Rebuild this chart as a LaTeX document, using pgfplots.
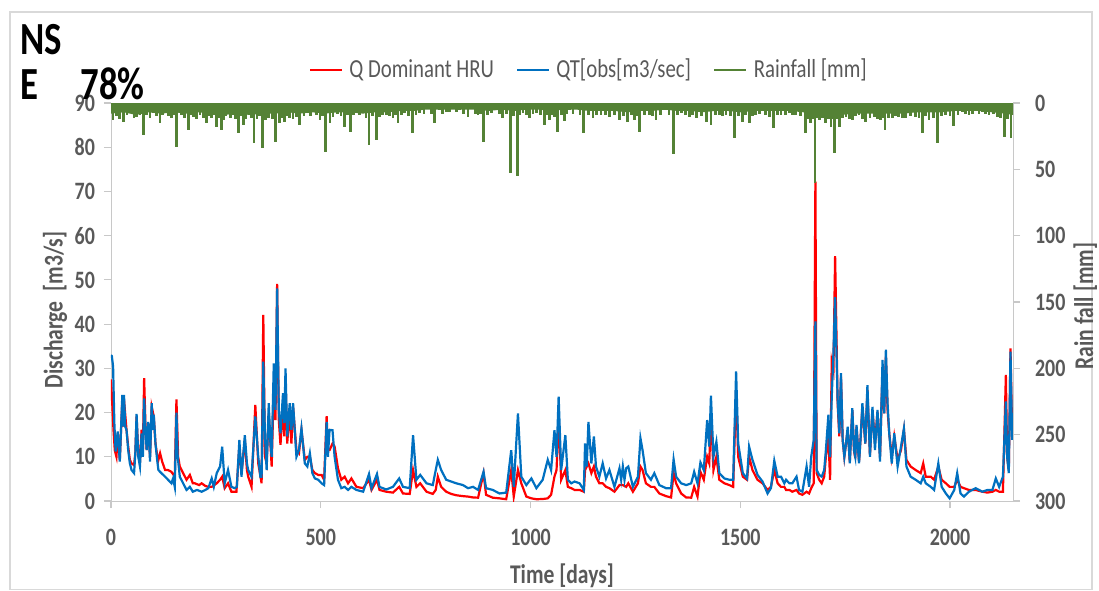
\documentclass[border=0pt]{standalone}
\usepackage{pgfplots}
\pgfplotsset{compat=1.18}
\usepackage{fontspec}
\setmainfont{Carlito}[FakeStretch=0.8]
\definecolor{redc}{HTML}{FF0000}
\definecolor{bluec}{HTML}{0070C0}
\definecolor{rainc}{HTML}{548235}
\definecolor{txtgray}{HTML}{595959}
\definecolor{axisgray}{HTML}{C8C8C8}
\definecolor{framegray}{HTML}{D9D9D9}

\pgfplotsset{
  common/.style={
    scale only axis, width=451pt, height=199pt,
    at={(0,0)}, anchor=south west,
    xmin=0, xmax=2150,
    axis line style={draw=axisgray},
    tick style={draw=axisgray, line width=0.6pt},
    major tick length=3.5pt, tick align=outside,
    /pgf/number format/assume math mode=true,
    /pgf/number format/1000 sep={},
    tick label style={font=\fontsize{12.5}{14}\selectfont\bfseries, text=txtgray},
    label style={font=\fontsize{13.5}{15}\selectfont\bfseries, text=txtgray},
  }
}

\begin{document}
\begin{tikzpicture}
\useasboundingbox (-55.5pt,-44.5pt) rectangle (494pt,250.5pt);
\draw[framegray, line width=0.6pt] (-50.5pt,-44.3pt) rectangle (490.5pt,244.5pt);

% discharge
\begin{axis}[common,
  axis x line*=bottom, axis y line*=left,
  ymin=0, ymax=90, ytick={0,10,...,90},
  xtick={0,500,1000,1500,2000},
  xticklabel style={yshift=-7pt},
  yticklabel style={xshift=-1pt},
  xlabel={Time [days]},
  xlabel style={at={(axis description cs:0.5,-0.188)}, anchor=center},
  ylabel={Discharge \ [m3/s]},
  ylabel style={at={(axis description cs:-0.062,0.48)}, anchor=center},
]
\addplot[redc, line width=1.1pt] coordinates {
(0,27.5)(3,22)(6,16)(9,11.5)(13,10)(16,15.3)(21,9.3)(27,22.9)(29,16.8)(31,22.9)(37,16.1)(41,12.3)(45,9.3)(49,8.5)(55,8.1)(58,10.8)(61,19.1)(65,10.8)(69,8.9)(73,16.1)(76,11.5)(79,27.8)(82,17.6)(85,11.5)(89,17.6)(93,10)(97,21.3)(102,19.1)(106,13)(110,10.4)(113,9.3)(117,10.8)(122,8.9)(129,7)(136,7)(144,6.6)(152,5.5)(156,23)(160,10)(164,7.8)(172,6.3)(180,4.8)(188,5.9)(195,4)(200,4)(210,3.6)(216,4)(225,3.4)(232,3.2)(240,3.2)(252,4)(260,4.8)(265,5.5)(271,2.9)(279,4)(287,2.1)(299,2.1)(306,12.5)(311,6.3)(319,13.8)(324,7)(327,5.5)(335,3.2)(344,21.7)(351,8.5)(359,4)(363,42.1)(367,10)(371,8.5)(376,19.8)(383,7.8)(388,25.9)(392,18.3)(396,49.1)(400,18.3)(404,12.7)(410,22.1)(413,14.6)(416,27.4)(420,13)(426,20.6)(430,13)(434,21.3)(442,11.5)(448,10.8)(454,16.1)(462,9.3)(468,10)(474,10)(480,7)(486,6.3)(494,5.9)(502,5.9)(508,4.8)(514,19.2)(517,11.5)(521,11.5)(528,13)(533,12.3)(541,7.4)(549,4.8)(557,5.5)(565,4)(573,5.1)(585,3.2)(601,2.9)(615,4.8)(621,2.5)(634,4.8)(640,2.5)(656,2.1)(672,1.9)(687,3.2)(696,1.7)(712,1.6)(720,7)(728,3.2)(737,4)(752,2.1)(767,1.6)(774,2.5)(779,5.5)(787,3.2)(799,2.1)(811,1.6)(823,1.3)(839,1.1)(851,1)(863,0.8)(875,0.75)(888,6.3)(894,1.4)(910,0.75)(926,0.6)(942,0.4)(954,7)(960,1)(970,7)(978,4)(990,1)(1002,0.6)(1014,0.4)(1029,0.45)(1041,0.6)(1049,1.4)(1057,5.5)(1062,7)(1067,19.1)(1073,4.8)(1083,7)(1089,3.2)(1097,2.9)(1105,2.5)(1117,2.5)(1127,2.1)(1130,7)(1138,8.5)(1145,6.3)(1151,7.8)(1156,5.5)(1164,4)(1172,4)(1180,3.2)(1188,2.9)(1200,2.1)(1212,3.6)(1220,3.6)(1228,3.2)(1233,4)(1244,2.1)(1256,4)(1262,7.8)(1267,7)(1275,4)(1287,3.2)(1295,3.2)(1307,1.7)(1323,1.1)(1335,0.8)(1341,6.3)(1347,4)(1359,1.7)(1371,0.8)(1383,0.75)(1390,3.2)(1398,1)(1405,6.6)(1413,4.8)(1421,10)(1426,8.5)(1430,19.8)(1436,7)(1443,10)(1450,4.8)(1462,4)(1474,3.6)(1483,3.2)(1490,25)(1495,10)(1506,5.5)(1516,4.8)(1521,10)(1529,7)(1541,4.8)(1553,4)(1565,2.5)(1573,3.2)(1581,7)(1589,4)(1597,3.2)(1605,3.2)(1609,2.5)(1617,2.5)(1624,2.1)(1634,2.5)(1640,1.7)(1648,1.4)(1658,2.1)(1664,1.7)(1669,2.9)(1675,4)(1679,72.2)(1682,6.3)(1688,4.8)(1694,4)(1700,5.5)(1704,10)(1710,14.6)(1714,4.8)(1718,31.5)(1722,29.6)(1726,55.4)(1732,22.1)(1736,14.6)(1740,28.1)(1744,13.8)(1748,10)(1752,13)(1756,16.1)(1761,8.9)(1767,20.6)(1771,11.5)(1774,9.7)(1777,16.8)(1783,8.9)(1787,14.6)(1791,21.3)(1798,13)(1803,25.1)(1809,10.4)(1815,20.6)(1821,13)(1827,20.2)(1833,10)(1839,29.6)(1843,19.8)(1847,32.7)(1851,20.6)(1855,15.3)(1861,10)(1867,14.6)(1875,9.3)(1883,11.5)(1890,16.1)(1896,9.3)(1906,7.8)(1918,7)(1930,6.3)(1936,8.5)(1942,5.5)(1954,5.5)(1962,4.8)(1972,7.8)(1980,4.8)(1990,4)(1999,3.2)(2010,3.2)(2017,4.8)(2025,3.2)(2033,2.9)(2045,2.5)(2061,2.5)(2077,2.1)(2089,1.9)(2101,2.1)(2109,2.5)(2117,2.1)(2126,2.1)(2133,28.5)(2136,10)(2140,7)(2144,34.5)(2148,15.3)
};
\addplot[bluec, line width=1.1pt] coordinates {
(0,33)(2,32.8)(5,30.4)(8,17.6)(11,11.2)(16,15.7)(21,8.9)(27,24)(29,16.8)(31,24)(34,16.8)(37,16.1)(41,11.5)(45,8.5)(49,7)(55,6.3)(58,10.8)(61,19.7)(65,10)(69,7.8)(73,15.3)(76,10)(79,23.2)(82,16.8)(85,11.5)(89,17.9)(93,8.9)(97,22.1)(100,16.1)(102,19.5)(106,13)(110,9.3)(113,7)(120,6.3)(129,5.5)(136,4.8)(144,4)(148,5.1)(152,3.2)(156,20)(159,10)(164,5.5)(172,4)(180,2.5)(188,3.2)(195,2.1)(205,2.5)(216,2.1)(225,2.5)(232,2.9)(240,5.1)(245,3.2)(252,6.3)(260,7.8)(265,12.3)(271,4)(279,7)(287,3.2)(295,2.9)(300,3.2)(306,13.8)(311,5.5)(319,14.9)(324,8.5)(327,7)(335,5.5)(344,19.1)(351,10)(356,5.5)(359,5.5)(363,31.5)(367,14.6)(371,7)(376,22.1)(380,13)(383,10)(388,31.1)(392,20.6)(396,48.1)(400,20.6)(404,15.3)(410,24.4)(413,17.6)(416,30)(420,14.6)(426,22.1)(430,16.1)(434,22.1)(442,10)(448,11.5)(454,16.4)(462,8.5)(468,7.8)(474,10.8)(480,6.3)(486,5.1)(494,4.8)(502,4)(508,3.6)(514,17.9)(517,10)(521,16.1)(528,16)(533,10)(541,4.8)(549,2.9)(557,3.2)(565,2.5)(573,3.2)(585,2.5)(601,2.1)(615,6.1)(621,2.9)(634,6.1)(640,3.2)(656,2.6)(672,3.2)(687,5.1)(696,3.2)(712,2.9)(720,14.9)(728,4.8)(737,5.9)(752,4)(767,3.6)(774,7)(779,9.3)(787,7)(799,4.8)(811,4.4)(823,4)(839,3.6)(851,2.9)(863,3.2)(875,2.5)(888,6.6)(894,2.9)(910,2.5)(926,1.7)(942,1.9)(954,11.5)(960,3.2)(970,19.8)(978,5.5)(990,3.6)(1002,5.1)(1014,2.9)(1029,4.8)(1041,9.3)(1049,7)(1057,16)(1062,10)(1067,23.6)(1073,7)(1083,14.9)(1089,4.8)(1097,4)(1105,4.4)(1117,4)(1127,2.5)(1130,13)(1134,7.8)(1138,17.9)(1145,8.5)(1151,14.6)(1156,7.8)(1164,5.5)(1172,8.5)(1180,5.1)(1188,7)(1200,3.2)(1212,7.4)(1216,4.8)(1220,7.8)(1224,4.8)(1228,7.4)(1233,7.8)(1244,3.2)(1256,5.5)(1262,14.2)(1267,11.5)(1275,6.3)(1287,4.8)(1295,6.3)(1307,3.6)(1323,2.9)(1335,2.9)(1341,9.4)(1347,5.5)(1359,4)(1371,3.6)(1383,4)(1390,6.6)(1398,4)(1405,8.7)(1413,7)(1421,18.3)(1426,12.3)(1430,23.8)(1436,10)(1443,13.4)(1450,6.3)(1462,5.1)(1474,4.8)(1483,4.8)(1490,29.3)(1495,13)(1506,6.3)(1516,5.1)(1521,12.3)(1529,9.3)(1541,5.9)(1553,4.4)(1565,1.7)(1573,2.9)(1581,9.1)(1589,5.5)(1597,5.5)(1605,4)(1609,4.8)(1617,4)(1624,4)(1634,5.5)(1640,2.5)(1648,2.1)(1658,7.8)(1664,3.2)(1669,10)(1675,13.8)(1679,40.6)(1682,7)(1688,5.9)(1694,5.5)(1700,7)(1704,11.5)(1710,19.5)(1714,10)(1718,23.6)(1722,33.4)(1726,46.1)(1732,22.9)(1736,15.3)(1740,28.9)(1744,13.8)(1748,10)(1752,13)(1756,16.8)(1761,8.5)(1767,21)(1771,11.5)(1774,10)(1777,17.2)(1783,8.5)(1787,14.6)(1791,22.1)(1798,13)(1803,26.2)(1809,10)(1815,21.3)(1821,11.5)(1827,20.6)(1833,8.9)(1839,31.9)(1843,19.8)(1847,34.2)(1851,22.1)(1855,15.3)(1861,8.5)(1867,15.3)(1875,7.8)(1883,12.3)(1890,16.4)(1896,7.8)(1906,5.5)(1918,4.8)(1930,4)(1936,5.5)(1942,4)(1954,3.2)(1962,2.5)(1972,8.5)(1980,3.2)(1990,1.7)(1999,0.6)(2010,2.5)(2017,6.3)(2025,1.7)(2033,1)(2045,2.1)(2061,2.9)(2077,2.1)(2089,2.5)(2101,2.5)(2109,5.1)(2117,3.2)(2126,5.5)(2133,22.5)(2136,10)(2140,6.3)(2144,33.8)(2148,13.8)
};
\end{axis}

% rainfall
\begin{axis}[common,
  axis x line=none, axis y line*=right,
  y dir=reverse, ymin=0, ymax=300, ytick={0,50,...,300},
  yticklabel style={xshift=4pt},
  ylabel={Rain fall [mm]},
  ylabel style={at={(axis description cs:1.08,0.49)}, anchor=center},
  legend columns=3,
  legend style={at={(0.531,1.083)}, anchor=center, draw=none, fill=none,
    font=\fontsize{13}{15}\selectfont, text=txtgray,
    /tikz/every even column/.append style={column sep=9pt},
    /tikz/every odd column/.append style={column sep=1pt}},
  legend image code/.code={\draw[#1] (0pt,0pt) -- (16pt,0pt);},
]
\addlegendimage{redc, line width=1.1pt}
\addlegendentry{Q Dominant HRU}
\addlegendimage{bluec, line width=1.1pt}
\addlegendentry{QT[obs[m3/sec]}
\addlegendimage{rainc, line width=1.4pt}
\addlegendentry{Rainfall [mm]}
\addplot[fill=rainc, draw=none, forget plot] coordinates {
(0,8)(30,7)(60,9)(90,7)(120,8)(150,7)(180,8)(210,7)(240,8)(270,9)(300,8)(330,9)(360,8)(390,8)(420,7)(450,8)(480,7)(510,8)(540,7)(570,7)(600,8)(630,7)(660,7)(690,6)(720,6)(750,5)(780,5)(810,5)(840,5)(870,5)(900,6)(930,5)(960,6)(990,5)(1020,5)(1050,6)(1080,5)(1110,5)(1140,6)(1170,6)(1200,6)(1230,7)(1260,6)(1290,6)(1320,5)(1350,6)(1380,6)(1410,7)(1440,6)(1470,6)(1500,7)(1530,6)(1560,6)(1590,6)(1620,6)(1650,7)(1680,8)(1710,8)(1740,9)(1770,8)(1800,8)(1830,8)(1860,8)(1890,8)(1920,7)(1950,7)(1980,7)(2010,6)(2040,6)(2070,6)(2100,7)(2130,8)(2150,9)
} \closedcycle;
\addplot[rainc, ycomb, line width=1.4pt, forget plot] coordinates {
(5,12.8)(13,10)(21,12)(29,14)(38,9)(49,7.8)(55,11)(61,10.3)(69,9)(77,24.1)(85,9)(93,11)(101,7.8)(109,10)(117,15.3)(123,9)(129,6.5)(137,10)(144,11.5)(150,9)(156,32.9)(168,9)(176,11)(184,20.3)(190,9)(196,10.3)(204,12)(212,9)(220,11)(228,15.3)(234,10)(240,11.5)(246,9)(252,17.8)(258,11)(264,20.3)(268,12.8)(273,10)(279,7.8)(285,11)(291,9)(297,12)(303,22.9)(309,10)(315,16.6)(321,12)(327,7.8)(334,11)(341,29.9)(348,12)(354,10)(361,34.2)(368,13)(375,11.5)(384,12)(393,29.1)(402,15.3)(408,11)(414,14.1)(420,10)(426,11.5)(434,12)(442,10.3)(450,16.6)(460,10)(470,7.8)(476,10)(482,5.3)(490,9)(498,12.8)(505,10)(512,36.7)(522,15.3)(529,10.3)(540,8)(548,10)(557,18)(564,9)(571,21.6)(578,9)(585,6.5)(593,9)(601,7.8)(608,11)(615,31.7)(624,10)(633,27.9)(640,10.3)(648,9)(656,9)(664,10)(672,11.5)(678,9)(684,15.3)(692,9)(700,7.8)(709,10)(718,22.9)(727,9)(736,7.8)(746,8)(756,4)(764,8)(772,15.3)(783,5.3)(791,8)(799,6.5)(807,7)(815,4)(823,7)(831,5.3)(841,8)(851,10.3)(863,4)(869,8)(875,9)(881,8)(887,29.1)(897,9)(907,7.8)(918,5.3)(926,8)(934,11.5)(943,8)(952,52.5)(960,10)(968,55)(975,9)(982,7.8)(990,9)(998,11.5)(1006,8)(1014,7.8)(1024,9)(1033,16.6)(1039,9)(1045,12.8)(1051,9)(1057,10.3)(1065,22)(1073,9)(1081,13.3)(1087,8)(1093,5.3)(1101,8)(1109,4)(1118,9)(1127,22.4)(1138,9)(1149,11.5)(1158,9)(1168,9)(1178,9)(1188,10.3)(1200,9)(1212,12.8)(1222,10)(1232,14.1)(1240,9)(1248,12.8)(1254,10)(1260,21.6)(1271,9)(1283,9)(1291,10)(1299,12.8)(1309,9)(1319,5.3)(1330,9)(1341,38.7)(1350,9)(1359,7.8)(1369,9)(1379,10.3)(1387,9)(1395,11.5)(1407,10)(1419,14.1)(1430,16.6)(1440,9)(1450,9)(1458,10)(1466,9)(1476,10)(1487,26.6)(1496,10)(1505,14.1)(1513,9)(1521,15.3)(1529,10)(1537,9)(1545,8)(1553,5.3)(1561,9)(1569,10.3)(1579,19)(1588,9)(1597,9)(1607,9)(1617,7.8)(1624,9)(1632,9)(1644,10)(1656,22.9)(1662,12)(1668,15.3)(1673,12)(1678,60)(1683,11)(1688,12.8)(1696,11)(1704,15.3)(1710,12)(1716,17.8)(1720,12)(1725,37.4)(1730,12)(1736,17.8)(1744,11)(1752,10.3)(1760,12)(1767,12.8)(1775,10)(1783,9)(1791,12)(1799,14.1)(1809,11)(1819,10.3)(1827,12)(1835,12.8)(1840,11)(1845,20.3)(1854,11)(1863,11.5)(1870,10)(1878,10.3)(1886,11)(1894,11.5)(1906,10)(1918,10.3)(1926,11)(1934,22.9)(1942,10)(1950,12.8)(1960,11)(1970,30.4)(1980,10)(1990,9)(2000,10)(2009,17.3)(2019,9)(2029,6.5)(2037,8)(2045,9)(2053,8)(2061,5.3)(2069,8)(2077,6.5)(2085,8)(2093,9)(2103,8)(2113,10.3)(2121,11)(2129,25.4)(2137,12)(2145,26.6)
};
\end{axis}

\node[anchor=base west, font=\fontsize{23}{25}\selectfont\bfseries, inner sep=0pt] at (-45.5pt,223pt) {NS};
\node[anchor=base west, font=\fontsize{23}{25}\selectfont\bfseries, inner sep=0pt] at (-45.5pt,200.5pt) {E};
\node[anchor=base west, font=\fontsize{23}{25}\selectfont\bfseries, inner sep=0pt] at (-15.5pt,200.5pt) {78\%};
\end{tikzpicture}
\end{document}
